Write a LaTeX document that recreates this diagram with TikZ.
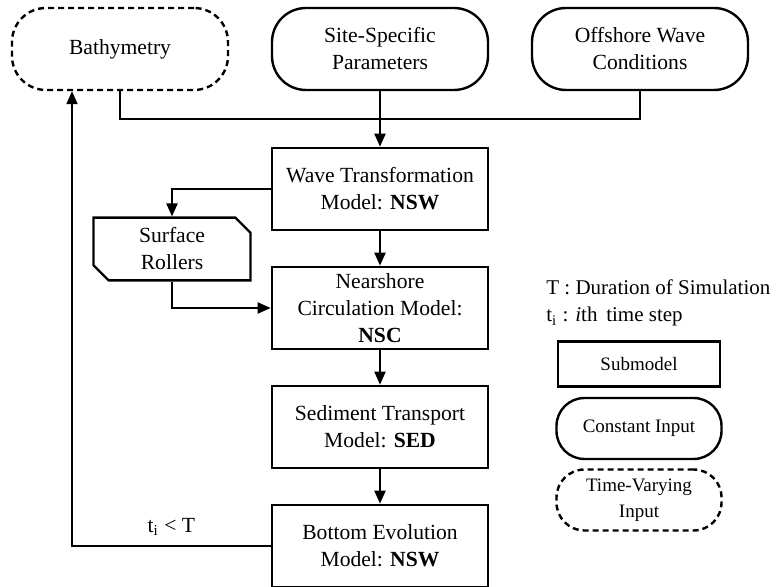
\documentclass[tikz,border=0pt]{standalone}
\usepackage{fontspec}
\setmainfont{Liberation Serif}
\usetikzlibrary{shapes.misc, arrows.meta, calc}
\tikzstyle{constin} = [rectangle, rounded corners=17pt,
minimum width=108pt,
minimum height=41pt,
inner sep=2pt,
align=center,
draw=black, line width=1.2pt]
\tikzstyle{varin} = [constin, 
dash pattern=on 3pt off 2pt]
\tikzstyle{submodel} = [rectangle, 
minimum width=108pt, 
minimum height=41pt,
inner sep=2pt,
align=center, 
draw=black, line width=1.3pt]
\tikzstyle{rollers} = [chamfered rectangle, 
chamfered rectangle corners={north east, south west},
chamfered rectangle xsep=4.5pt,
minimum width=78.5pt, 
minimum height=30pt,
inner sep=2pt,
align=center, 
draw=black, line width=1.2pt]
\tikzstyle{legendfont} = [font=\fontsize{9.5pt}{13pt}\selectfont]
\tikzstyle{note} = [anchor=base west, inner sep=0pt, font=\fontsize{10.5pt}{13.5pt}\selectfont]
\tikzstyle{link} = [line width=1pt]
\tikzstyle{arrow} = [line width=1pt,->,>={Triangle[length=6.5pt,width=5.5pt]}]

\begin{document}
\begin{tikzpicture}[node distance=59.5pt, font=\fontsize{10.8pt}{13.5pt}\selectfont]
    \useasboundingbox (0,0) rectangle (388pt,-293.5pt);

    % inputs
    \node (bathy) [varin] at (60pt,-24.5pt) {Bathymetry};
    \node (site) [constin, right of=bathy, xshift=70.5pt] {Site-Specific\\Parameters};
    \node (offshore) [constin, right of=site, xshift=70.5pt] {Offshore Wave\\Conditions};

    % submodels
    \node (wave) [submodel, below of=site, yshift=-10.5pt] {Wave Transformation\\Model: \textbf{NSW}};
    \node (nearshore) [submodel, below of=wave] {Nearshore\\Circulation Model:\\\textbf{NSC}};
    \node (sed) [submodel, below of=nearshore] {Sediment Transport\\Model: \textbf{SED}};
    \node (bottom) [submodel, below of=sed] {Bottom Evolution\\Model: \textbf{NSW}};
    \node (surf) [rollers, left of=wave, xshift=-44.5pt, yshift=-30pt] {Surface\\Rollers};

    % legend
    \node (Tdef) [note] at (273pt,-147.5pt) {T : Duration of Simulation};
    \node (tidef) [note] at (273pt,-161pt) {t\textsubscript{i} : \textit{i}th\, time step};
    \node (keysub) [submodel, legendfont, minimum width=81pt, minimum height=22.5pt] at (319.5pt,-182pt) {Submodel};
    \node (keyconst) [constin, legendfont, rounded corners=14pt, minimum width=82.5pt, minimum height=30.5pt, below of=keysub, node distance=32.25pt] {Constant Input};
    \node (keyvar) [varin, legendfont, rounded corners=14pt, minimum width=82.5pt, minimum height=30.5pt, below of=keyconst, node distance=35.75pt] {Time-Varying\\Input};

    \coordinate (join) at ($(site.south)!0.5!(wave.north)$);

    \draw [link] (bathy.south) |- (join);
    \draw [link] (offshore.south) |- (join);
    \draw [arrow] (site) -- (wave);
    \draw [arrow] (wave.west) -| (surf.north);
    \draw [arrow] (surf.south) |- (nearshore.west);
    \draw [arrow] (wave) -- (nearshore);
    \draw [arrow] (nearshore) -- (sed);
    \draw [arrow] (sed) -- (bottom);
    \draw [arrow] (bottom.west) -| node[pos=0.25, anchor=base, yshift=7pt] {t\textsubscript{i} < T} ([xshift=-24pt]bathy.south);

\end{tikzpicture}
\end{document}
